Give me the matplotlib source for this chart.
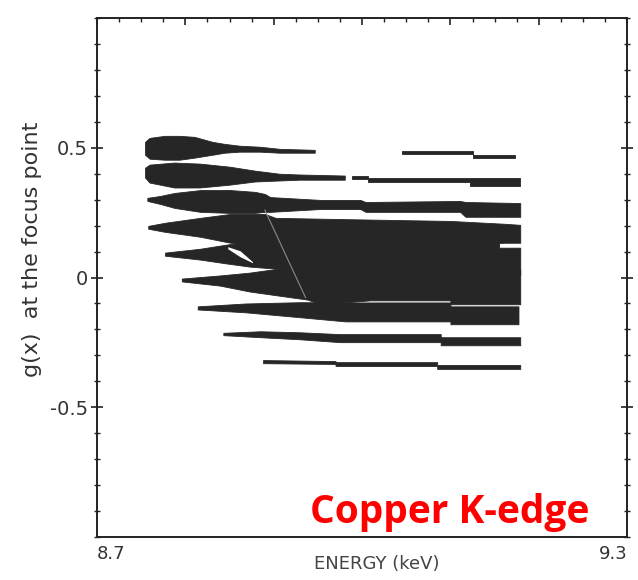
import numpy as np
import matplotlib
matplotlib.use("Agg")
import matplotlib.pyplot as plt
from matplotlib.ticker import MultipleLocator

nan = np.nan

# bands of g(x) vs energy: x (keV), upper and lower edge
a_x = [8.755, 8.760, 8.777, 8.794, 8.811, 8.831, 8.845, 8.862, 8.885, 8.907, 8.947, nan, 9.045, 9.125, 9.125, 9.173]
a_top = [0.521, 0.536, 0.544, 0.544, 0.540, 0.521, 0.513, 0.506, 0.502, 0.494, 0.490, nan, 0.487, 0.487, 0.473, 0.473]
a_bot = [0.471, 0.456, 0.452, 0.452, 0.460, 0.471, 0.479, 0.483, 0.483, 0.479, 0.479, nan, 0.475, 0.475, 0.462, 0.462]

b_x = [8.755, 8.760, 8.788, 8.817, 8.851, 8.879, 8.907, 8.930, 8.981, nan, 8.989, 9.007, 9.007, 9.122, 9.122, 9.179]
b_top = [0.421, 0.433, 0.441, 0.437, 0.425, 0.410, 0.398, 0.395, 0.391, nan, 0.391, 0.391, 0.383, 0.383, 0.383, 0.383]
b_bot = [0.383, 0.364, 0.345, 0.345, 0.356, 0.368, 0.372, 0.375, 0.375, nan, 0.379, 0.379, 0.368, 0.368, 0.352, 0.352]

c_x = [8.757, 8.771, 8.788, 8.817, 8.851, 8.879, 8.890, 8.896, 8.953, 8.998, 9.004, 9.111, 9.117, 9.179]
c_top = [0.307, 0.314, 0.326, 0.337, 0.337, 0.330, 0.322, 0.310, 0.299, 0.299, 0.291, 0.295, 0.291, 0.287]
c_bot = [0.295, 0.284, 0.268, 0.253, 0.249, 0.249, 0.253, 0.253, 0.264, 0.264, 0.253, 0.253, 0.234, 0.234]

d_x = [8.758, 8.777, 8.817, 8.851, 8.890, 8.902, 8.964, 9.100, 9.162, 9.179]
d_top = [0.199, 0.211, 0.230, 0.245, 0.245, 0.230, 0.226, 0.218, 0.207, 0.203]
d_bot = [0.188, 0.176, 0.157, 0.134, 0.126, 0.126, 0.126, 0.126, 0.134, 0.134]

e_x = [8.777, 8.817, 8.845, 8.873, 8.930, 9.043, 9.155, 9.155, 9.179]
e_top = [0.096, 0.111, 0.126, 0.140, 0.140, 0.140, 0.140, 0.115, 0.115]
e_bot = [0.084, 0.069, 0.055, 0.042, 0.027, 0.011, 0.011, 0.011, 0.011]

f_x = [8.796, 8.839, 8.873, 8.938, 8.953, 9.009, 9.100, 9.100, 9.179]
f_top = [-0.004, 0.008, 0.019, 0.050, 0.050, 0.042, 0.042, 0.042, 0.031]
f_bot = [-0.015, -0.031, -0.054, -0.085, -0.103, -0.088, -0.088, -0.103, -0.103]

g_x = [8.814, 8.868, 8.930, 8.981, 9.009, 9.100, 9.100, 9.177]
g_top = [-0.111, -0.100, -0.095, -0.096, -0.096, -0.096, -0.111, -0.111]
g_bot = [-0.123, -0.134, -0.153, -0.169, -0.169, -0.169, -0.180, -0.180]

h_x = [8.843, 8.885, 8.930, 8.975, 9.089, 9.089, 9.179]
h_top = [-0.213, -0.207, -0.211, -0.218, -0.218, -0.230, -0.230]
h_bot = [-0.222, -0.230, -0.238, -0.249, -0.249, -0.261, -0.261]

i_x = [8.888, 8.970, 8.970, 9.085, 9.085, 9.179]
i_top = [-0.318, -0.322, -0.326, -0.326, -0.337, -0.337]
i_bot = [-0.330, -0.333, -0.341, -0.341, -0.352, -0.352]

# white sliver inside the block, and the diagonal seam
hole_x = [8.848, 8.862, 8.876]
hole_top = [0.119, 0.103, 0.061]
hole_bot = [0.111, 0.080, 0.057]
seam_x = [8.890, 8.936]
seam_y = [0.260, -0.077]

band_color = "#262626"

fig = plt.figure(figsize=(6.38, 5.8), dpi=100)
ax = fig.add_axes([0.152, 0.074, 0.831, 0.895])

bands = [(a_x, a_top, a_bot), (b_x, b_top, b_bot), (c_x, c_top, c_bot),
         (d_x, d_top, d_bot), (e_x, e_top, e_bot), (f_x, f_top, f_bot),
         (g_x, g_top, g_bot), (h_x, h_top, h_bot), (i_x, i_top, i_bot)]
for bx, btop, bbot in bands:
    ax.fill_between(np.array(bx), np.array(bbot), np.array(btop),
                    color=band_color, lw=0.6, edgecolor=band_color)

ax.fill_between(hole_x, hole_bot, hole_top, color="white", lw=0)
ax.plot(seam_x, seam_y, color="#8a8a8a", lw=0.8)

ax.set_xlim(8.7, 9.3)
ax.set_ylim(-1.0, 1.0)

# x: ticks only along the top, labels only at the ends
ax.set_xticks(np.arange(8.7, 9.301, 0.1))
ax.set_xticklabels(["8.7", "", "", "", "", "", "9.3"])
ax.xaxis.set_minor_locator(MultipleLocator(0.025))
ax.tick_params(axis="x", which="both", bottom=False, top=True,
               labelbottom=True, direction="in", color="#222222")
ax.tick_params(axis="x", which="major", length=5, width=1.2,
               labelsize=13, labelcolor="#333333", pad=6)
ax.tick_params(axis="x", which="minor", length=3, width=1.0)
xlabels = ax.get_xticklabels()
xlabels[0].set_horizontalalignment("left")
xlabels[-1].set_horizontalalignment("right")

# y: labelled ticks at -0.5, 0, 0.5, small ticks every 0.1
ax.set_yticks([-0.5, 0, 0.5])
ax.set_yticklabels(["-0.5", "0", "0.5"])
ax.yaxis.set_minor_locator(MultipleLocator(0.1))
ax.tick_params(axis="y", which="both", left=True, right=True,
               direction="inout", color="#222222")
ax.tick_params(axis="y", which="major", length=9, width=1.2,
               labelsize=14, labelcolor="#333333", pad=2)
ax.tick_params(axis="y", which="minor", length=5, width=1.0)

for s in ax.spines.values():
    s.set_linewidth(1.4)
    s.set_color("#222222")

fig.text(0.59, 0.028, "ENERGY (keV)", ha="center", va="center",
         fontsize=13, color="#444444")
fig.text(0.05, 0.57, "g(x)  at the focus point", rotation=90,
         ha="center", va="center", fontsize=16, color="#333333")

fig.text(0.705, 0.117, "Copper K-edge", ha="center", va="center",
         fontsize=28, fontweight="bold", color="#ff0000", family="Open Sans")

fig.savefig("out.png", dpi=100)
